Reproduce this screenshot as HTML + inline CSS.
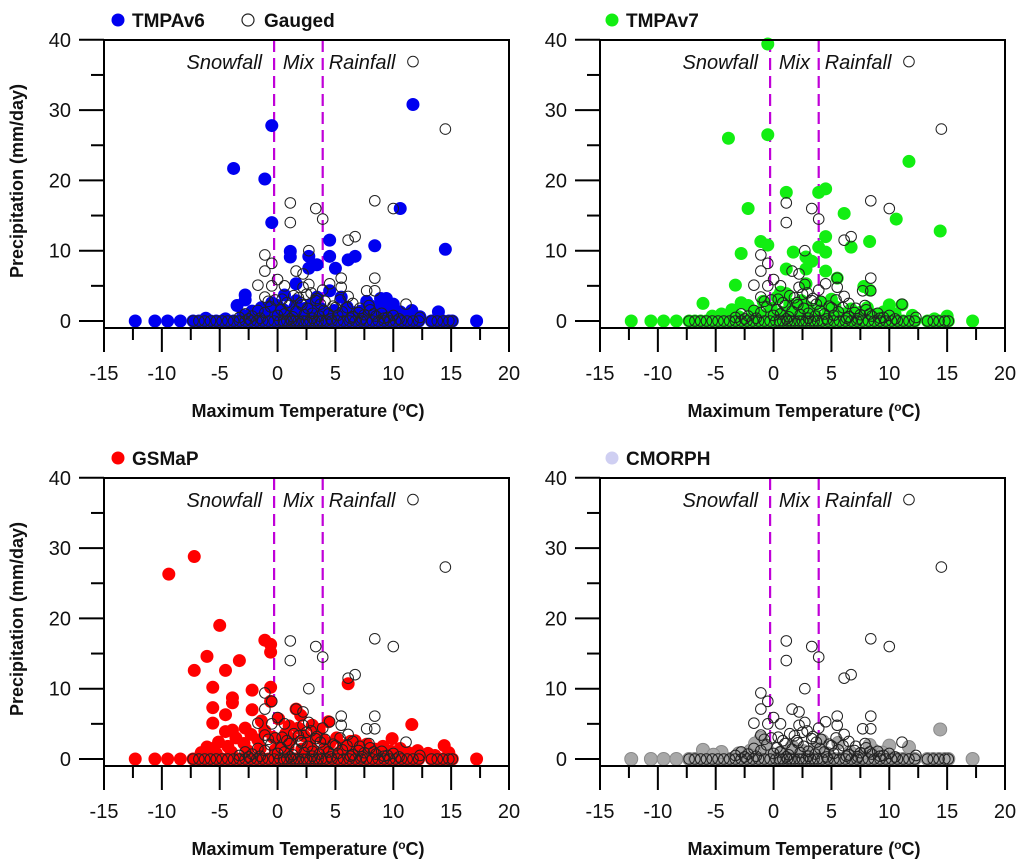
<!DOCTYPE html>
<html><head><meta charset="utf-8"><style>
html,body{margin:0;padding:0;background:#fff;}
svg{display:block;font-family:"Liberation Sans",Arial,sans-serif;}
</style></head><body>
<svg id="chart" width="1024" height="868" viewBox="0 0 1024 868" xmlns="http://www.w3.org/2000/svg"></svg>
<script>
// ---- shared data ----
const xTicks = [-15,-10,-5,0,5,10,15,20];
const yTicks = [0,10,20,30,40];
const snowLimit = -0.3, rainLimit = 3.9;
// temperatures of zero-precip days
const zeroT = [-12.3,-10.6,-9.5,-8.4,-7.3,-6.8,-6.3,-5.8,-5.3,-4.8,-4.3,-3.8,-3.3,-2.8,-2.3,-1.8,-1.3,-0.8,-0.3,0.2,0.5,0.8,1.2,1.5,1.8,2.2,2.5,2.8,3.2,3.5,3.8,4.2,4.7,5.2,5.7,6.2,6.7,7.2,7.7,8.2,8.7,9.2,9.7,10.2,10.7,11.2,11.7,12.2,13.3,13.8,14.3,14.8,15.1,17.2];
const gaugedZeroT = [-7.3,-6.8,-6.3,-5.8,-5.3,-4.8,-4.3,-3.8,-3.3,-2.8,-2.3,-1.8,-1.3,-0.8,-0.3,0.2,0.5,0.8,1.2,1.5,1.8,2.2,2.5,2.8,3.2,3.5,3.8,4.2,4.7,5.2,5.7,6.2,6.7,7.2,7.7,8.2,8.7,9.2,9.7,10.2,10.7,11.2,11.7,12.2,13.3,13.8,14.3,14.8,15.1];
// gauged non-zero
const gaugedX = [11.7,14.5,1.1,1.1,3.3,3.9,8.4,10.0,6.1,6.7,2.7,-1.1,-0.5,-1.1,1.6,2.2,0.0,5.5,8.4,-1.7,-0.5,2.7,4.5,5.5,7.7,8.4,6.1,-1.1,0.6,2.2,3.9,11.1,7.1,
 -3.3,-2.8,-2.2,-1.7,-1.1,-0.6,0.0,0.3,0.6,1.0,1.3,1.6,2.0,2.3,2.6,3.0,3.3,3.6,4.0,4.4,4.8,5.2,5.6,6.0,6.5,7.0,7.5,8.0,8.5,9.0,9.5,10.0,
 -2.5,-1.5,-0.8,0.4,1.1,1.8,2.5,3.0,3.7,4.6,5.4,6.3,7.3,8.3,9.2,10.5,12.3,
 -0.2,0.8,1.4,2.1,2.9,3.4,4.1,5.0,6.5,7.9];
const gaugedY = [36.9,27.3,16.8,14.0,16.0,14.5,17.1,16.0,11.5,12.0,10.0,9.4,8.2,7.1,7.1,6.7,5.9,6.1,6.1,5.1,5.0,5.2,5.3,4.8,4.3,4.3,3.5,3.4,5.0,4.8,4.4,2.4,1.8,
 0.5,1.0,0.7,1.5,1.2,2.0,0.8,1.6,1.0,2.2,0.6,1.4,2.6,0.9,1.8,1.1,2.9,0.7,1.5,1.0,2.1,0.8,1.3,1.9,0.6,1.2,0.9,1.6,0.7,1.1,0.5,0.8,
 0.3,0.4,2.8,3.1,0.3,3.3,3.8,0.4,2.4,0.3,3.0,0.4,0.3,1.0,0.4,0.3,0.5,
 3.0,2.6,3.6,2.3,4.0,3.2,2.8,1.9,2.5,2.2];
// TMPAv6
const v6X = [-3.8,-1.1,-0.5,-0.5,11.7,10.6,14.5,8.4,4.5,4.5,1.1,1.1,2.7,2.7,3.4,5.0,6.1,6.7,1.6,4.5,-2.8,-2.8,-3.5,0.6,3.4,5.5,7.7,8.9,9.4,10.0,10.6,12.3,13.9,-0.5,1.6,-2.0,
 -3.0,-2.2,-1.4,-0.8,0.0,0.5,1.0,1.5,2.0,2.4,2.9,3.3,3.8,4.3,4.9,5.4,6.0,6.6,7.2,7.9,8.6,9.2,9.8,10.4,11.0,11.6,-6.2,-4.5,
 -2.6,-1.8,-1.0,-0.3,0.3,0.9,1.3,1.9,2.6,3.1,3.6,4.1,4.6,5.1,5.7,6.3,7.0,7.6,8.2,8.8,9.6,10.2,10.9,11.4,8.0,8.6];
const v6Y = [21.7,20.2,27.8,14.0,30.8,16.0,10.2,10.7,11.5,9.2,9.9,9.1,9.2,7.5,8.0,7.5,8.7,9.2,5.3,4.3,3.7,3.0,2.2,3.7,3.4,3.4,2.8,3.2,3.2,2.4,1.3,0.6,1.3,2.6,2.9,1.3,
 0.8,1.4,1.9,1.2,2.2,1.6,0.9,2.0,1.3,1.8,2.4,1.1,1.7,1.0,1.5,0.9,2.0,1.2,1.4,0.8,1.1,1.6,0.9,1.2,0.7,1.5,0.4,0.3,
 0.5,0.7,0.6,0.9,0.5,0.8,1.0,0.6,0.7,0.5,0.8,0.6,0.9,0.5,0.7,0.6,0.8,0.5,0.7,0.6,0.5,0.8,0.6,0.4,2.2,2.0];
// TMPAv7
const v7X = [-0.5,-0.5,-3.9,11.7,-2.2,1.1,3.9,4.5,6.1,10.6,14.4,4.5,8.3,6.7,-1.1,-0.5,-2.8,1.7,3.9,4.5,2.8,3.3,1.1,2.8,4.5,5.5,-3.3,-6.1,7.8,8.3,10.0,11.1,15.0,0.6,1.1,-2.8,2.8,5.0,
 -4.5,-3.6,-2.2,-1.5,-0.9,-0.2,0.3,0.8,1.4,1.9,2.4,3.0,3.5,4.1,4.7,5.3,6.0,6.7,7.4,8.1,8.8,9.5,10.5,12.0,-5.3,13.9,
 -3.0,-1.8,-0.6,0.5,1.6,2.6,3.7,4.8,5.8,7.0,8.0,9.0];
const v7Y = [39.4,26.5,26.0,22.7,16.0,18.3,18.3,18.8,15.3,14.5,12.8,12.0,11.3,10.5,11.3,10.8,9.6,9.8,10.5,9.8,9.1,8.5,7.4,7.4,7.1,6.1,5.1,2.5,4.9,4.4,2.3,2.3,0.7,4.1,3.9,2.6,5.3,3.1,
 1.0,1.6,2.2,1.3,2.8,1.8,3.4,1.2,2.4,1.6,2.9,1.9,1.1,2.6,1.4,2.1,1.0,1.7,1.2,1.9,0.9,1.3,1.0,0.8,0.7,0.3,
 0.6,0.7,0.9,0.6,0.8,0.7,0.6,0.8,0.6,0.7,0.6,0.5];
// GSMaP
const gsX = [-9.4,-7.2,-5.0,-6.1,-7.2,-4.5,-3.3,-1.1,-0.6,-0.6,-5.6,-3.9,-3.9,-2.2,-0.6,-0.6,-5.6,-2.2,-4.5,-5.6,6.1,1.6,4.4,11.6,9.9,14.4,-4.5,-2.8,-3.9,-6.1,0.1,3.0,6.7,
 -6.6,-5.8,-5.1,-4.3,-3.6,-2.9,-2.3,-1.7,-1.1,-0.4,0.2,0.7,1.2,1.8,2.3,2.8,3.4,3.9,4.5,5.1,5.7,6.3,7.0,7.7,8.4,9.1,9.8,10.6,11.3,12.1,13.0,14.8,-1.4,1.0,2.0,3.6,
 -5.3,-4.0,-2.6,-1.5,-0.2,0.9,2.1,3.1,4.2,5.4,6.6,7.8,9.0,10.2,11.8,13.6];
const gsY = [26.3,28.8,19.0,14.6,12.6,12.6,14.0,16.9,16.3,15.2,10.2,8.7,8.0,9.8,10.2,8.2,7.3,7.0,6.3,5.1,10.7,7.1,5.3,4.9,2.9,1.9,3.9,4.4,4.1,1.7,5.7,4.8,2.6,
 0.9,1.5,2.4,1.8,3.0,2.2,3.5,2.7,4.0,3.1,2.5,3.6,2.9,4.4,3.3,2.6,3.9,2.8,2.2,3.0,1.9,2.5,1.6,2.1,1.4,1.8,1.1,1.5,0.9,1.2,0.8,0.9,5.4,4.7,6.2,4.2,
 0.8,1.0,1.2,1.5,1.3,1.6,1.4,1.2,1.5,1.0,1.1,0.9,0.8,0.7,0.6,0.5];
// CMORPH
const cmX = [14.4,10.0,11.7,-6.1,-1.1,-4.5,-3.0,-2.0,-0.6,0.6,1.6,2.6,3.6,4.6,5.6,6.6,7.6,8.6,9.4,-5.2,-1.6,4.2,8.3];
const cmY = [4.2,1.9,1.7,1.3,3.0,1.0,0.8,1.2,1.5,0.9,1.8,1.1,1.4,0.8,2.3,1.0,0.7,1.3,0.9,0.6,2.2,2.6,2.0];

const panels = [
  {ox:0, oy:0, name:'tmpav6', label:'TMPAv6', color:'#0000f0', stroke:'none', xs:v6X, ys:v6Y, legendDot:'#0000f0', gaugedLegend:true},
  {ox:496, oy:0, name:'tmpav7', label:'TMPAv7', color:'#12ee12', stroke:'none', xs:v7X, ys:v7Y, legendDot:'#12ee12'},
  {ox:0, oy:438, name:'gsmap', label:'GSMaP', color:'#ff0000', stroke:'none', xs:gsX, ys:gsY, legendDot:'#ff0000'},
  {ox:496, oy:438, name:'cmorph', label:'CMORPH', color:'#a8a8a8', stroke:'#8a8a8a', xs:cmX, ys:cmY, legendDot:'#cfcff2'}
];

const NS = 'http://www.w3.org/2000/svg';
const svg = document.getElementById('chart');
function mk(tag, attrs, parent){
  const e = document.createElementNS(NS, tag);
  for (const k in attrs) e.setAttribute(k, attrs[k]);
  (parent||svg).appendChild(e);
  return e;
}

panels.forEach(p => {
  const g = mk('g', {});
  
  
  const L = p.ox + 104, R = p.ox + 509, T = p.oy + 40, B = p.oy + 328;
  const sx = v => L + (v + 15) * (405 / 35);
  const sy = v => p.oy + 321 - v * 7.03;

  [snowLimit, rainLimit].forEach((t, i) => {
    const l = mk('line', {x1:sx(t), x2:sx(t), y1:T, y2:sy(0), stroke:'#c000d8', 'stroke-width':2.2, 'stroke-dasharray':'12,6'}, g);
    
    
  });
  [['Snowfall', sx(-4.6)], ['Mix', sx(1.8)], ['Rainfall', sx(7.3)]].forEach(r => {
    const t = mk('text', {x:r[1], y:T+29, 'text-anchor':'middle', 'font-size':20, 'font-style':'italic', fill:'#111'}, g);
    t.textContent = r[0];
    
    
  });

  const prodX = zeroT.concat(p.xs), prodY = zeroT.map(() => 0).concat(p.ys);
  prodX.forEach((x, i) => {
    const c = mk('circle', {cx:sx(x), cy:sy(prodY[i]), r:6.5, fill:p.color, stroke:p.stroke, 'stroke-width':1}, g);
    
    
  });
  const gx = gaugedZeroT.concat(gaugedX), gy = gaugedZeroT.map(() => 0).concat(gaugedY);
  gx.forEach((x, i) => {
    const c = mk('circle', {cx:sx(x), cy:sy(gy[i]), r:5.3, fill:'none', stroke:'#222', 'stroke-width':1}, g);
    
    
  });

  const f = mk('path', {d:`M${L},${T}H${R}V${B}M${L},${T}V${B}M${L},${B}H${R}`, fill:'none', stroke:'#000', 'stroke-width':2}, g);
  
  

  for (let v = 0; v <= 40; v += 5) {
    const major = v % 10 === 0;
    mk('line', {x1:major ? L-25 : L-13, x2:L, y1:sy(v), y2:sy(v), stroke:'#000', 'stroke-width':2}, g);
  }
  yTicks.forEach(v => {
    const t = mk('text', {x:L-33, y:sy(v)+7, 'text-anchor':'end', 'font-size':20, fill:'#111'}, g);
    t.textContent = v;
    
    
  });
  for (let v = -15; v <= 20; v += 2.5) {
    const major = v % 5 === 0;
    mk('line', {x1:sx(v), x2:sx(v), y1:B, y2:major ? B+24 : B+12, stroke:'#000', 'stroke-width':2}, g);
  }
  xTicks.forEach(v => {
    const t = mk('text', {x:sx(v), y:B+52, 'text-anchor':'middle', 'font-size':20, fill:'#111'}, g);
    t.textContent = v;
    
    
  });
  const xt = mk('text', {x:p.ox+308, y:p.oy+417, 'text-anchor':'middle', 'font-size':18, 'font-weight':'bold', fill:'#111'}, g);
  xt.innerHTML = 'Maximum Temperature (<tspan font-size="12" dy="-6">o</tspan><tspan dy="6">C)</tspan>';
  
  
  if (p.ox === 0) {
    const yt = mk('text', {x:0, y:0, transform:`translate(23,${p.oy+181}) rotate(-90)`, 'text-anchor':'middle', 'font-size':18, 'font-weight':'bold', fill:'#111'}, g);
    yt.textContent = 'Precipitation (mm/day)';
    
    
  }
  const lg = mk('g', {}, g);
  
  
  const lx = p.ox === 0 ? 118 : 612;
  mk('circle', {cx:lx, cy:p.oy+20, r:6.5, fill:p.legendDot}, lg);
  const lt = mk('text', {x:lx+14, y:p.oy+27, 'font-size':19, 'font-weight':'bold', fill:'#111'}, lg);
  lt.textContent = p.label;
  if (p.gaugedLegend) {
    mk('circle', {cx:248, cy:20, r:6, fill:'none', stroke:'#222', 'stroke-width':1.2}, lg);
    const gt = mk('text', {x:264, y:27, 'font-size':19, 'font-weight':'bold', fill:'#111'}, lg);
    gt.textContent = 'Gauged';
  }
});
</script>
</body></html>
